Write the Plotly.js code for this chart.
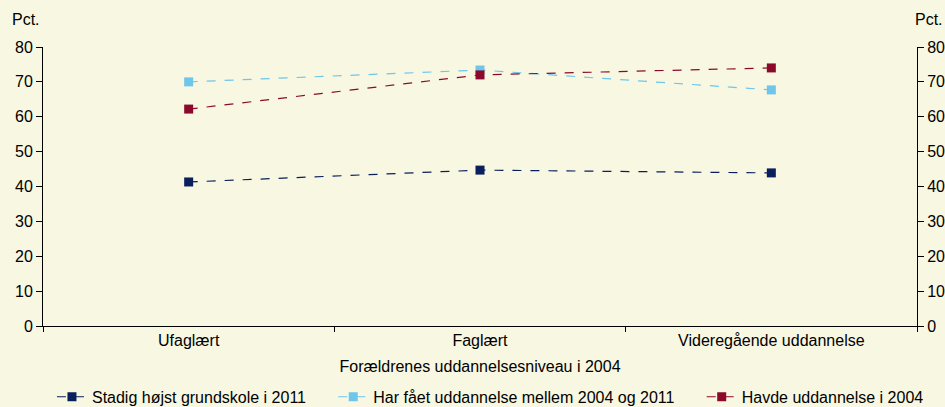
<!DOCTYPE html>
<html>
<head>
<meta charset="utf-8">
<script src="https://cdn.plot.ly/plotly-3.0.1.min.js"></script>
<style>html,body{margin:0;padding:0;background:#F8F7E2;}</style>
</head>
<body>
<div id="chart" style="width:945px;height:407px;"></div>
<script>
const categories = ["Ufaglært", "Faglært", "Videregående uddannelse"];
const seriesNames = ["Stadig højst grundskole i 2011", "Har fået uddannelse mellem 2004 og 2011", "Havde uddannelse i 2004"];
const stadig = [41.3, 44.7, 43.9];
const harFaaet = [70.0, 73.4, 67.7];
const havde = [62.2, 72.0, 74.0];
const yTicks = [0, 10, 20, 30, 40, 50, 60, 70, 80];
const colors = ["#0B1F5C", "#6EC6EA", "#8B0A2C"];

const font = {family: "Liberation Sans, Arial, sans-serif", size: 16, color: "#000"};
const pad = "\u00a0\u00a0\u00a0\u00a0\u00a0";
const seriesValues = [stadig, harFaaet, havde];
const traces = seriesValues.map((vals, i) => ({
  type: "scatter", mode: "lines+markers",
  x: categories, y: vals, name: seriesNames[i] + (i < 2 ? pad : ""),
  line: {color: colors[i], width: 1.2, dash: "dash"},
  marker: {symbol: "square", size: 9, color: colors[i]}
}));
traces.push({type: "scatter", x: categories, y: stadig, yaxis: "y2", mode: "none", showlegend: false, hoverinfo: "skip"});

const layout = {
  width: 945, height: 407,
  paper_bgcolor: "#F8F7E2", plot_bgcolor: "#F8F7E2",
  font: font,
  margin: {l: 43, r: 28, t: 47, b: 81},
  showlegend: true,
  legend: {orientation: "h", x: 0.519, xanchor: "center", xref: "container", yref: "container", y: 0.025, yanchor: "middle", font: font, bgcolor: "rgba(0,0,0,0)", itemwidth: 30, tracegroupgap: 0},
  xaxis: {
    type: "category", range: [-0.5, 2.5], tickson: "boundaries", automargin: false,
    ticks: "outside", ticklen: 5, tickcolor: "#000",
    showline: true, linecolor: "#000", linewidth: 1, showgrid: false, zeroline: false,
    title: {text: "Forældrenes uddannelsesniveau i 2004", font: font, standoff: 12}
  },
  yaxis: {
    range: [0, 80], tickvals: yTicks, ticks: "outside", ticklen: 6, tickcolor: "#000", automargin: false,
    showline: true, linecolor: "#000", linewidth: 1, showgrid: false, zeroline: false
  },
  yaxis2: {
    range: [0, 80], tickvals: yTicks, ticks: "outside", ticklen: 6, tickcolor: "#000", automargin: false,
    showline: true, linecolor: "#000", linewidth: 1, showgrid: false, zeroline: false,
    overlaying: "y", side: "right"
  },
  annotations: [
    {text: "Pct.", xref: "paper", yref: "paper", x: -0.038, y: 1.1, xanchor: "left", yanchor: "middle", showarrow: false, font: font},
    {text: "Pct.", xref: "paper", yref: "paper", x: 1.032, y: 1.1, xanchor: "right", yanchor: "middle", showarrow: false, font: font}
  ]
};
Plotly.newPlot("chart", traces, layout, {displayModeBar: false, staticPlot: true});
</script>
</body>
</html>
